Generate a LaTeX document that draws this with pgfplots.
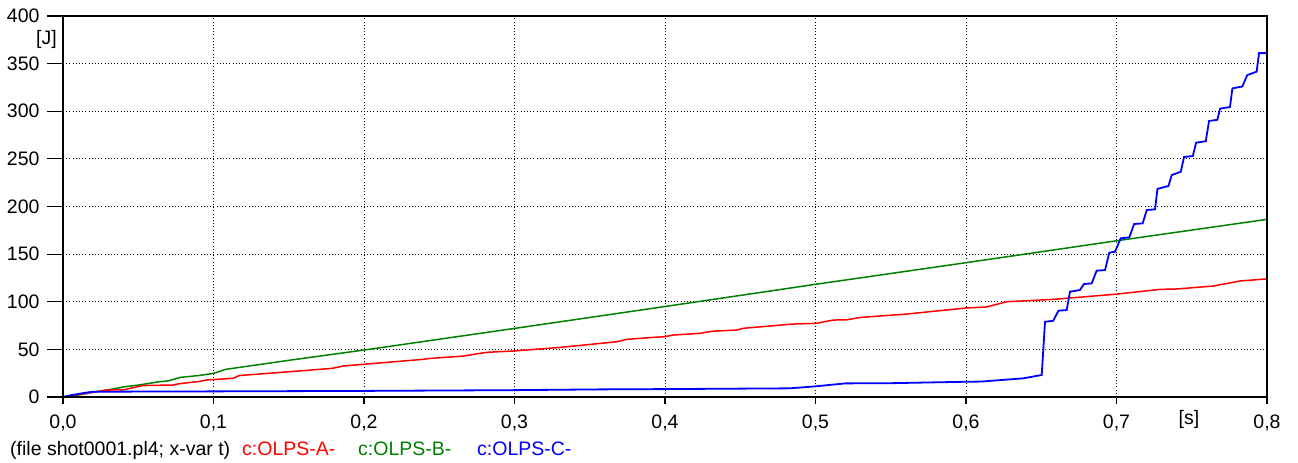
\documentclass[border=0pt]{standalone}
\usepackage{fontspec}
\setmainfont{Liberation Sans}
\usepackage{pgfplots}
\pgfplotsset{compat=1.18}
\definecolor{cred}{RGB}{255,0,0}
\definecolor{cgreen}{RGB}{0,128,0}
\definecolor{cblue}{RGB}{0,0,255}
\begin{document}
\begin{tikzpicture}[font=\fontsize{19.5}{23}\selectfont]
\begin{axis}[name=ax,
  scale only axis, width=1204pt, height=381pt,
  xmin=0, xmax=0.8, ymin=0, ymax=400,
  xtick={0,0.1,0.2,0.3,0.4,0.5,0.6,0.7,0.8},
  ytick={0,50,100,150,200,250,300,350,400},
  /pgf/number format/assume math mode=true,
  xticklabel style={yshift=-7pt, /pgf/number format/.cd, fixed, fixed zerofill, precision=1, use comma},
  yticklabel style={xshift=-13pt, /pgf/number format/.cd, fixed, precision=0},
  scaled x ticks=false, scaled y ticks=false,
  tick align=outside, major tick length=7pt,
  xtick pos=bottom, ytick pos=left,
  ytick style={draw=none},
  tick style={black, line width=1.1pt},
  axis line style={black, line width=1.3pt},
  grid=major,
  grid style={black, line width=1pt, dash pattern=on 1pt off 2.2pt},
  clip=true,
]
\addplot[cgreen, line width=1.5pt] coordinates {
(0,0) (0.01,2) (0.022,5.6) (0.03,7.5) (0.041,10.8) (0.05,12.5) (0.064,16) (0.07,17)
(0.078,20.6) (0.09,22.5) (0.1,24.8) (0.108,29) (0.15,38.5) (0.2,49.3) (0.3,72)
(0.4,95) (0.5,118.3) (0.6,141) (0.7,164) (0.8,186.5)
};
\addplot[cred, line width=1.5pt] coordinates {
(0,0) (0.01,2.5) (0.02,5) (0.0288,7.3) (0.04,7.5) (0.053,12) (0.073,12.6) (0.0775,14)
(0.0908,16.4) (0.095,17.8) (0.113,19.6) (0.117,22.5) (0.15,26.5) (0.179,30.1)
(0.186,32.5) (0.2015,34.6) (0.239,39.5) (0.244,40.5) (0.266,43) (0.2815,46.9)
(0.2992,48.3) (0.33,52) (0.3679,58) (0.3745,60.5) (0.392,62.6) (0.4,63.3) (0.405,65)
(0.4233,66.8) (0.431,69) (0.4475,70.3) (0.452,72.1) (0.485,76.6) (0.5003,77.3)
(0.5118,80.8) (0.5206,81) (0.5296,83.5) (0.56,87) (0.6004,93.5) (0.6137,94.5)
(0.627,100) (0.658,102.5) (0.6735,104.5) (0.7,108) (0.7289,113) (0.74,113.4)
(0.7643,116.5) (0.7821,121.8) (0.8,124)
};
\addplot[cblue, line width=1.8pt] coordinates {
(0,0) (0.005,1.8) (0.01,3.2) (0.015,4.5) (0.02,5.5) (0.05,5.7) (0.1,5.9) (0.2,6.4)
(0.3,7.2) (0.357,8.0) (0.4,8.3) (0.483,9.1) (0.5,11.2) (0.52,14.3) (0.55,14.5)
(0.6,16) (0.61,16.2) (0.638,19.6) (0.6503,23.1) (0.6525,79) (0.658,80) (0.6614,90.6)
(0.6669,91.3) (0.6691,110.6) (0.6757,112.3) (0.6784,118.6) (0.6835,119.3)
(0.6868,132.6) (0.6924,133.3) (0.6952,151.5) (0.699,152.5) (0.7028,166.6)
(0.7085,167.6) (0.7117,181.6) (0.7174,182.3) (0.7201,196.3) (0.7256,197)
(0.7272,218.5) (0.7345,221.5) (0.7367,233) (0.7427,236.5) (0.7449,252)
(0.7507,253) (0.7529,267) (0.7593,268.5) (0.7615,289.8) (0.767,291) (0.7688,302.7)
(0.7754,304.5) (0.777,324) (0.7836,326) (0.7869,338) (0.7931,341.5) (0.7947,361)
(0.8,361)
};
\end{axis}
\begin{axis}[
  scale only axis, width=1204pt, height=381pt,
  xmin=0, xmax=0.8, ymin=0, ymax=400,
  xtick=\empty,
  ytick={0,50,100,150,200,250,300,350,400},
  yticklabels={},
  tick align=outside, major tick length=16pt,
  ytick pos=left,
  tick style={black, line width=1.1pt},
  axis line style={black, line width=1.3pt},
]
\end{axis}
\node[anchor=east, inner sep=0pt] at ([xshift=-6pt,yshift=-23pt]ax.north west) {[J]};
\node[anchor=center, inner sep=0pt] at ([xshift=1126pt,yshift=-22pt]ax.south west) {[s]};
\node[anchor=base west, inner sep=0pt] at ([xshift=-53pt,yshift=-58pt]ax.south west) {(file shot0001.pl4; x-var t)};
\node[anchor=base west, inner sep=0pt, text=cred] at ([xshift=179pt,yshift=-58pt]ax.south west) {c:OLPS-A-};
\node[anchor=base west, inner sep=0pt, text=cgreen] at ([xshift=295pt,yshift=-58pt]ax.south west) {c:OLPS-B-};
\node[anchor=base west, inner sep=0pt, text=cblue] at ([xshift=414pt,yshift=-58pt]ax.south west) {c:OLPS-C-};
\path[use as bounding box] ([xshift=-63pt,yshift=-65pt]ax.south west) rectangle ([xshift=31pt,yshift=16pt]ax.north east);
\end{tikzpicture}
\end{document}
